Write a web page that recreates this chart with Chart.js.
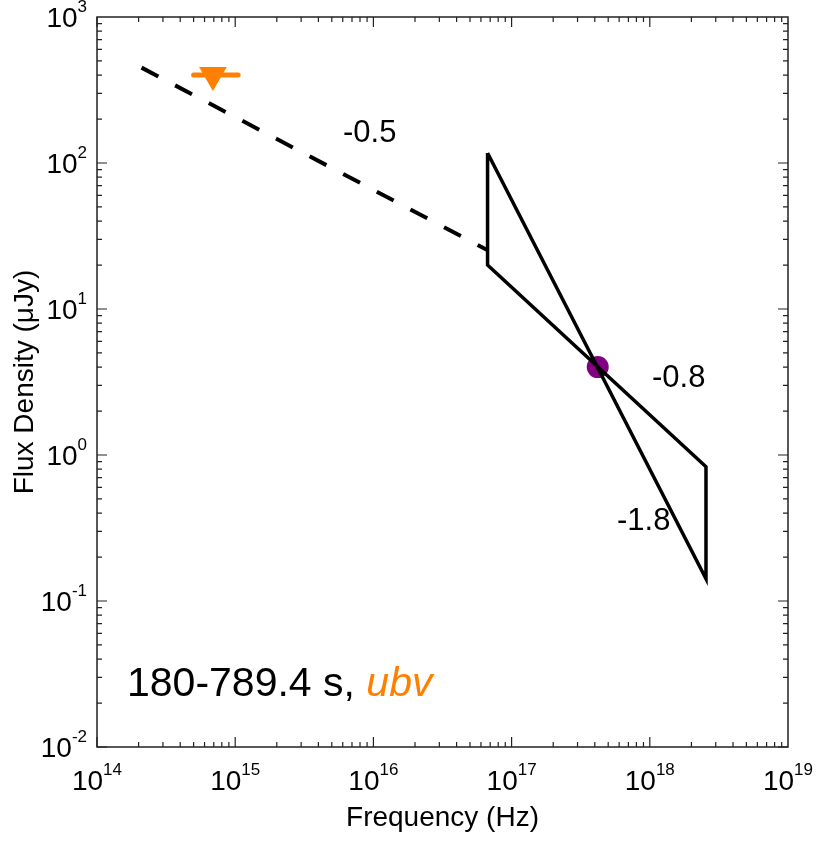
<!DOCTYPE html>
<html>
<head>
<meta charset="utf-8">
<title>SED 180-789.4 s</title>
<script src="https://cdn.jsdelivr.net/npm/chart.js@4.4.1/dist/chart.umd.min.js"></script>
<style>
  html, body { margin: 0; padding: 0; background: #fff; }
  canvas { display: block; }
</style>
</head>
<body>
<canvas id="sed" width="816" height="843"></canvas>
<script>
  // axis decades
  const xDecades = [14, 15, 16, 17, 18, 19];
  const yDecades = [-2, -1, 0, 1, 2, 3];

  // extrapolated optical slope (dashed)
  const slopeFreq = [2.1e14, 6.6e16];
  const slopeFlux = [450, 25.5];

  // X-ray bowtie outline
  const bowFreq = [6.7e16, 2.55e18, 2.55e18, 6.7e16, 6.7e16];
  const bowFlux = [117, 0.142, 0.83, 20, 117];

  // XRT flux point
  const xrtFreq = [4.2e17];
  const xrtFlux = [4.0];

  // UVOT ubv upper limit and its band width
  const uvFreq = [6.9e14];
  const uvFlux = [400];
  const uvBand = [5.0e14, 1.05e15];

  // slope labels
  const slopeLabels = [
    { text: '-0.5', x: 343, y: 133 },
    { text: '-0.8', x: 652, y: 378 },
    { text: '-1.8', x: 617, y: 521 }
  ];

  const ORANGE = '#ff8000';
  const FONT = '"Liberation Sans", Arial, sans-serif';

  const pts = (xs, ys) => xs.map((x, i) => ({ x: x, y: ys[i] }));

  const frameAndText = {
    id: 'frameAndText',
    afterDraw(chart) {
      const { ctx, chartArea: a, scales } = chart;
      const xs = scales.x, ys = scales.y;
      ctx.save();

      // box
      ctx.strokeStyle = '#222';
      ctx.lineWidth = 1.5;
      ctx.strokeRect(a.left, a.top, a.right - a.left, a.bottom - a.top);

      // inward ticks on all four sides
      ctx.lineWidth = 1.2;
      ctx.beginPath();
      for (let d = xDecades[0]; d < xDecades[xDecades.length - 1]; d++) {
        for (let m = 1; m <= 9; m++) {
          const px = xs.getPixelForValue(m * Math.pow(10, d));
          const len = m === 1 ? 10 : 5;
          ctx.moveTo(px, a.bottom); ctx.lineTo(px, a.bottom - len);
          ctx.moveTo(px, a.top); ctx.lineTo(px, a.top + len);
        }
      }
      for (let d = yDecades[0]; d < yDecades[yDecades.length - 1]; d++) {
        for (let m = 1; m <= 9; m++) {
          const py = ys.getPixelForValue(m * Math.pow(10, d));
          const len = m === 1 ? 10 : 5;
          ctx.moveTo(a.left, py); ctx.lineTo(a.left + len, py);
          ctx.moveTo(a.right, py); ctx.lineTo(a.right - len, py);
        }
      }
      ctx.stroke();

      // tick labels: 10 with raised exponent
      ctx.fillStyle = '#000';
      const big = '28px ' + FONT, small = '17px ' + FONT;
      ctx.textBaseline = 'alphabetic';
      xDecades.forEach(d => {
        const px = xs.getPixelForValue(Math.pow(10, d));
        ctx.font = big;
        const w1 = ctx.measureText('10').width;
        ctx.font = small;
        const w2 = ctx.measureText(String(d)).width;
        const x0 = px - (w1 + w2) / 2;
        ctx.textAlign = 'left';
        ctx.font = big;
        ctx.fillText('10', x0, 790);
        ctx.font = small;
        ctx.fillText(String(d), x0 + w1, 775);
      });
      yDecades.forEach(d => {
        const py = ys.getPixelForValue(Math.pow(10, d));
        ctx.font = small;
        const w2 = ctx.measureText(String(d)).width;
        ctx.textAlign = 'right';
        ctx.fillText(String(d), 87, py - 5);
        ctx.font = big;
        ctx.fillText('10', 87 - w2, py + 10);
      });

      // axis titles
      ctx.font = '28px ' + FONT;
      ctx.textAlign = 'center';
      ctx.textBaseline = 'middle';
      ctx.fillText('Frequency (Hz)', (a.left + a.right) / 2, 818);
      ctx.save();
      ctx.translate(25, (a.top + a.bottom) / 2);
      ctx.rotate(-Math.PI / 2);
      ctx.fillText('Flux Density (\u03bcJy)', 0, 0);
      ctx.restore();

      // slope labels
      ctx.font = '31px ' + FONT;
      ctx.textAlign = 'left';
      slopeLabels.forEach(l => ctx.fillText(l.text, l.x, l.y));

      // time interval / filter label
      ctx.font = '41px ' + FONT;
      const lead = '180-789.4 s, ';
      ctx.fillText(lead, 127, 685);
      const w = ctx.measureText(lead).width;
      ctx.font = 'italic 41px ' + FONT;
      ctx.fillStyle = ORANGE;
      ctx.fillText('ubv', 127 + w, 685);

      ctx.restore();
    }
  };

  new Chart(document.getElementById('sed'), {
    type: 'scatter',
    data: {
      datasets: [
        {
          data: pts(bowFreq, bowFlux),
          showLine: true,
          borderColor: '#000',
          borderWidth: 3.5,
          borderJoinStyle: 'miter',
          pointRadius: 0,
          order: 0
        },
        {
          data: pts(slopeFreq, slopeFlux),
          showLine: true,
          borderColor: '#000',
          borderWidth: 4,
          borderDash: [19, 19],
          pointRadius: 0,
          order: 0
        },
        {
          data: pts(xrtFreq, xrtFlux),
          pointRadius: 11,
          pointBackgroundColor: '#800080',
          pointBorderWidth: 0,
          order: 2
        },
        {
          data: pts(uvFreq, uvFlux),
          pointStyle: 'triangle',
          rotation: 180,
          pointRadius: 16,
          pointBackgroundColor: ORANGE,
          pointBorderWidth: 0,
          order: 1
        },
        {
          data: pts(uvBand, [uvFlux[0], uvFlux[0]]),
          showLine: true,
          borderColor: ORANGE,
          borderWidth: 5,
          borderCapStyle: 'round',
          pointRadius: 0,
          order: 3
        }
      ]
    },
    options: {
      responsive: false,
      animation: false,
      devicePixelRatio: 1,
      layout: { padding: { left: 97, right: 28, top: 17, bottom: 96 } },
      scales: {
        x: { type: 'logarithmic', min: 1e14, max: 1e19, display: false },
        y: { type: 'logarithmic', min: 1e-2, max: 1e3, display: false }
      },
      plugins: {
        legend: { display: false },
        tooltip: { enabled: false }
      }
    },
    plugins: [frameAndText]
  });
</script>
</body>
</html>
